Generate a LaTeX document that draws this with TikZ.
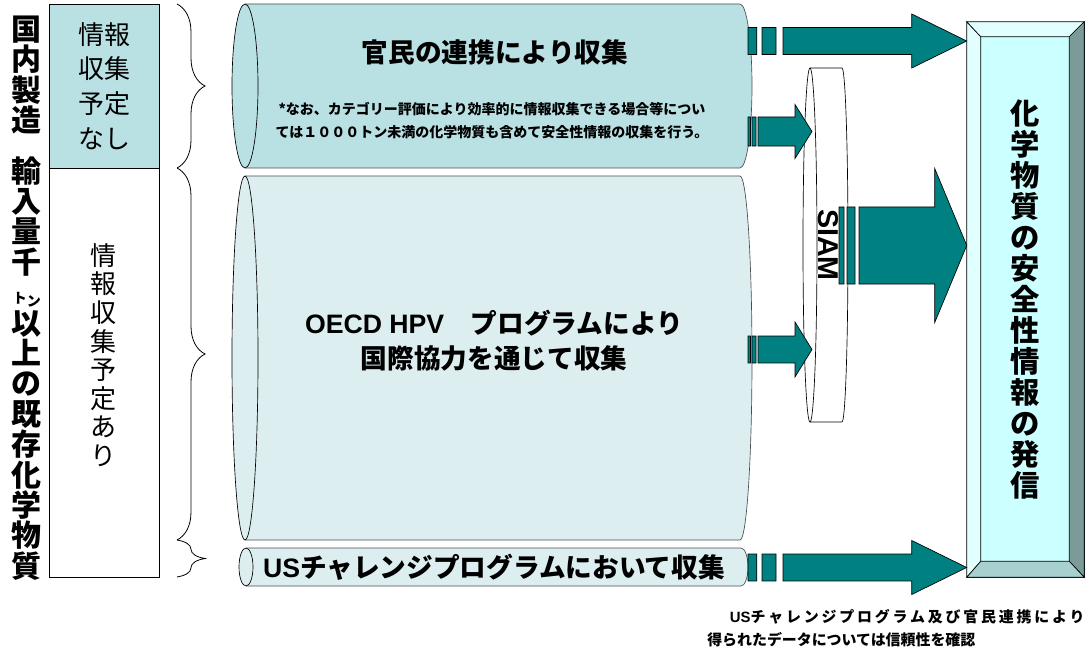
\documentclass[tikz,border=0pt]{standalone}
\usepackage{fontspec}
\setmainfont{Noto Sans CJK JP}
\newfontfamily\latinfont{Liberation Sans}
\definecolor{arrowteal}{RGB}{0, 128, 128}
\definecolor{cylteal}{RGB}{185, 224, 227}
\definecolor{cylpale}{RGB}{221, 238, 240}
\definecolor{bevellight}{RGB}{226, 255, 255}
\definecolor{bevelface}{RGB}{204, 255, 255}
\definecolor{beveldark}{RGB}{122, 155, 152}
\definecolor{bevelbottom}{RGB}{168, 208, 206}
\usetikzlibrary{calc, decorations.pathreplacing}

\tikzset{
  blockarrow/.style n args={4}{draw=black, line width=0.5pt, fill=arrowteal,
    to path={let \p1=(\tikztostart), \p2=(\tikztotarget) in
      (\x1,\y1-#1) rectangle (\x1+0.25*#4,\y1+#1)
      (\x1+0.4*#4,\y1-#1) rectangle (\x1+0.8*#4,\y1+#1)
      (\x1+#4,\y1-#1) -- (\x2-#3,\y1-#1) -- (\x2-#3,\y1-#2) -- (\x2,\y1)
      -- (\x2-#3,\y1+#2) -- (\x2-#3,\y1+#1) -- (\x1+#4,\y1+#1) -- cycle}},
  bracket/.style={decorate, decoration={brace, amplitude=21pt}, line width=0.6pt},
  cylline/.style={draw=black!70, line width=0.5pt},
}

\begin{document}
\begin{tikzpicture}[x=0.75pt, y=-0.75pt]
  \useasboundingbox (0,0) rectangle (1090,656);

  % left title
  \node[font=\bfseries\fontsize{22.5}{22.8}\selectfont, align=center, inner sep=0] (taisho) at (27,298) {国\\内\\製\\造\\[15pt]輸\\入\\量\\千\\{\fontsize{10.5}{10.5}\selectfont ト\raisebox{-0.2em}{ン}}\\以\\上\\の\\既\\存\\化\\学\\物\\質};

  % left boxes
  \node[draw, fill=cylteal, minimum width=82.5pt, minimum height=123pt, inner sep=0,
        font=\fontsize{19.5}{26}\selectfont, align=center] (nashi) at (104,86) {情報\\収集\\予定\\なし};
  \node[draw, minimum width=82.5pt, minimum height=306.75pt, inner sep=0] (ari) at (104,372.5) {};
  \node[font=\fontsize{19.5}{21.4}\selectfont, align=center, inner sep=0] (aritext) at (103,355) {情\\報\\収\\集\\予\\定\\あ\\り};

  % braces
  \draw[bracket] (177,4) -- (177,168);
  \draw[bracket] (177,168) -- (177,540);
  \draw[bracket] (177,540) -- (177,577);

  % top cylinder
  \fill[cylteal] (245,4) -- (740,4) arc[start angle=-90, end angle=90, x radius=12, y radius=82] -- (245,168) -- cycle;
  \draw[cylline] (245,4) -- (740,4) arc[start angle=-90, end angle=90, x radius=12, y radius=82] -- (245,168);
  \draw[fill=cylteal, line width=0.5pt] (245,86) ellipse[x radius=13, y radius=82];

  % middle cylinder
  \fill[cylpale] (245,176) -- (740,176) arc[start angle=-90, end angle=90, x radius=12, y radius=182] -- (245,540) -- cycle;
  \draw[cylline] (245,176) -- (740,176) arc[start angle=-90, end angle=90, x radius=12, y radius=182] -- (245,540);
  \draw[fill=cylpale, line width=0.5pt] (245,358) ellipse[x radius=13, y radius=182];

  % bottom cylinder
  \fill[cylpale] (246,548) -- (741,548) arc[start angle=-90, end angle=90, x radius=7, y radius=19] -- (246,586) -- cycle;
  \draw[cylline] (246,548) -- (741,548) arc[start angle=-90, end angle=90, x radius=7, y radius=19] -- (246,586);
  \draw[fill=cylpale, line width=0.5pt] (246,567) ellipse[x radius=7, y radius=19];

  % SIAM cylinder
  \fill[white] (810,68) -- (842,68) arc[start angle=-90, end angle=90, x radius=6, y radius=177] -- (810,422) -- cycle;
  \draw[line width=0.5pt] (810,68) -- (842,68) arc[start angle=-90, end angle=90, x radius=6, y radius=177] -- (810,422);
  \draw[fill=white, line width=0.5pt] (810,245) ellipse[x radius=7, y radius=177];
  \coordinate (siamleft) at (812,245);

  % cylinder texts
  \node[font=\bfseries\fontsize{20}{24}\selectfont] (kanmin) at (495,52) {官民の連携により収集};
  \node[font=\bfseries\fontsize{10.5}{17.25}\selectfont, align=center] (tadashi) at (492,120.5)
    {*なお、カテゴリー評価により効率的に情報収集できる場合等につい\\ては１０００トン未満の化学物質も含めて安全性情報の収集を行う。};
  \node[font=\bfseries\fontsize{20}{26.25}\selectfont, align=center] (oecd) at (494,341)
    {{\latinfont OECD HPV}　プログラムにより\\国際協力を通じて収集};
  \node[font=\bfseries\fontsize{20}{24}\selectfont] (us) at (494,567) {{\latinfont US}チャレンジプログラムにおいて収集};
  \node[font=\latinfont\bfseries\fontsize{21.5}{24}\selectfont, rotate=-90] (siam) at (828,245) {SIAM};

  % output box
  \node[draw, fill=bevelface, minimum width=87.75pt, minimum height=416.25pt, inner sep=0,
        font=\bfseries\fontsize{22}{23.25}\selectfont, align=center] (hasshin) at (1025.5,299.5)
    {化\\学\\物\\質\\の\\安\\全\\性\\情\\報\\の\\発\\信};
  \coordinate (o1) at (hasshin.north west);
  \coordinate (o2) at (hasshin.north east);
  \coordinate (o3) at (hasshin.south east);
  \coordinate (o4) at (hasshin.south west);
  \coordinate (i1) at ($(o1)+(14,15)$);
  \coordinate (i2) at ($(o2)+(-15,15)$);
  \coordinate (i3) at ($(o3)+(-15,-16)$);
  \coordinate (i4) at ($(o4)+(14,-16)$);
  \draw[fill=bevellight, line width=0.5pt] (o1) -- (i1) -- (i4) -- (o4) -- cycle;
  \draw[fill=bevellight, line width=0.5pt] (o1) -- (o2) -- (i2) -- (i1) -- cycle;
  \draw[fill=beveldark, line width=0.5pt] (o2) -- (o3) -- (i3) -- (i2) -- cycle;
  \draw[fill=bevelbottom, line width=0.5pt] (o4) -- (o3) -- (i3) -- (i4) -- cycle;

  % arrows
  \coordinate (a1) at (748,41);
  \coordinate (a2) at (748,131.5);
  \coordinate (a3) at (748,349.5);
  \coordinate (a4) at (839,245.5);
  \coordinate (a5) at (748,567.5);
  \draw[blockarrow={10.1pt}{20.25pt}{41.25pt}{26.25pt}] (a1) to (a1 -| hasshin.west);
  \draw[blockarrow={10.9pt}{20.25pt}{12.75pt}{7.5pt}] (a2) to (a2 -| siamleft);
  \draw[blockarrow={10.1pt}{20.6pt}{12.75pt}{7.5pt}] (a3) to (a3 -| siamleft);
  \draw[blockarrow={28.9pt}{57.75pt}{24pt}{15pt}] (a4) to (a4 -| hasshin.west);
  \draw[blockarrow={10.1pt}{20.25pt}{41.25pt}{26.25pt}] (a5) to (a5 -| hasshin.west);

  % note
  \node[font=\bfseries\fontsize{11.2}{17.25}\selectfont, align=left, anchor=west, inner sep=0] (kakunin) at (707,628.5)
    {\hspace*{17pt}{\latinfont US}{\addfontfeatures{LetterSpace=19}チャレンジプログラム及び官民連携により}\\得られたデータについては信頼性を確認};
\end{tikzpicture}
\end{document}
